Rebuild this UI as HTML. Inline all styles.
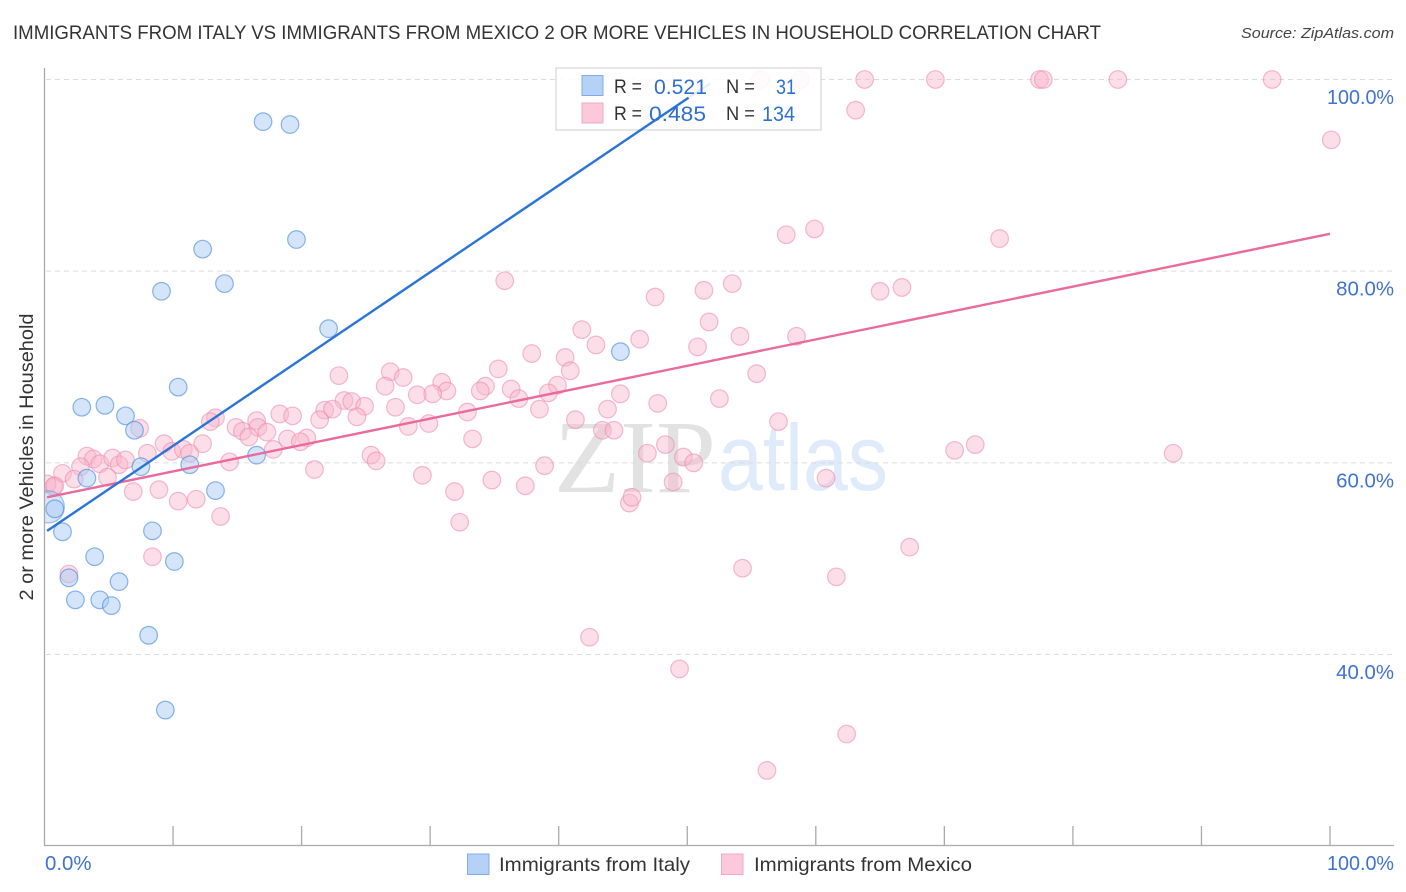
<!DOCTYPE html>
<html lang="en">
<head>
<meta charset="utf-8">
<title>Immigrants from Italy vs Immigrants from Mexico correlation chart</title>
<style>
html,body{margin:0;padding:0;background:#fff;}
svg{display:block;font-family:"Liberation Sans",sans-serif;}
</style>
</head>
<body>
<svg id="chart" xmlns="http://www.w3.org/2000/svg" width="1406" height="892" viewBox="0 0 1406 892">
  <defs>
    <clipPath id="plot-clip"><rect x="45" y="60" width="1349" height="786"/></clipPath>
    <filter id="soft" x="-5%" y="-5%" width="110%" height="110%"><feGaussianBlur stdDeviation="0.35"/></filter>
  </defs>
  <text x="13" y="39" font-size="19" fill="#333" textLength="1088" lengthAdjust="spacingAndGlyphs">IMMIGRANTS FROM ITALY VS IMMIGRANTS FROM MEXICO 2 OR MORE VEHICLES IN HOUSEHOLD CORRELATION CHART</text>
  <text x="1394" y="38" font-size="15" font-style="italic" fill="#444" text-anchor="end" textLength="153" lengthAdjust="spacingAndGlyphs">Source: ZipAtlas.com</text>
  <g>
    <text x="554" y="492" font-family="'Liberation Serif',serif" font-size="104" fill="#e2e2e2" textLength="162" lengthAdjust="spacingAndGlyphs">ZIP</text>
    <text x="718" y="490" font-size="94" fill="#dfeafa" textLength="170" lengthAdjust="spacingAndGlyphs">atlas</text>
  </g>
  <g id="grid"></g>
  <g id="points-pink" clip-path="url(#plot-clip)"></g>
  <g id="points-blue" clip-path="url(#plot-clip)"></g>
  <g id="line-under"></g>
  <rect x="556" y="68" width="265" height="62" fill="#fff" fill-opacity="0.88" stroke="#ddd" stroke-width="1.5"/>
  <g id="lines"></g>
  <g id="axes"></g>
  <g font-size="20">
    <rect x="582" y="75.5" width="21" height="20" fill="#b5d2f6" stroke="#7fade8" stroke-width="1"/>
    <rect x="582" y="103" width="21" height="20" fill="#fdc8d9" stroke="#f2a9c0" stroke-width="1"/>
    <text x="614" y="93" fill="#333" font-size="19" textLength="28" lengthAdjust="spacingAndGlyphs">R =</text>
    <text x="654" y="94" fill="#2f6fd0" font-size="21" textLength="53" lengthAdjust="spacingAndGlyphs">0.521</text>
    <text x="726" y="93" fill="#333" font-size="19" textLength="29" lengthAdjust="spacingAndGlyphs">N =</text>
    <text x="776" y="94" fill="#2f6fd0" font-size="21" textLength="20" lengthAdjust="spacingAndGlyphs">31</text>
    <text x="614" y="120" fill="#333" font-size="19" textLength="28" lengthAdjust="spacingAndGlyphs">R =</text>
    <text x="649" y="121" fill="#2f6fd0" font-size="21" textLength="57" lengthAdjust="spacingAndGlyphs">0.485</text>
    <text x="726" y="120" fill="#333" font-size="19" textLength="29" lengthAdjust="spacingAndGlyphs">N =</text>
    <text x="762" y="121" fill="#2f6fd0" font-size="21" textLength="33" lengthAdjust="spacingAndGlyphs">134</text>
  </g>
  <g>
    <rect x="467.5" y="854" width="21.5" height="20.5" fill="#b5d2f6" stroke="#7fade8" stroke-width="1"/>
    <text x="499" y="871" font-size="19.5" fill="#333" textLength="191" lengthAdjust="spacingAndGlyphs">Immigrants from Italy</text>
    <rect x="721.5" y="854" width="21.5" height="20.5" fill="#fdc8d9" stroke="#f2a9c0" stroke-width="1"/>
    <text x="754" y="871" font-size="19.5" fill="#333" textLength="218" lengthAdjust="spacingAndGlyphs">Immigrants from Mexico</text>
  </g>
  <text transform="translate(33,457) rotate(-90)" font-size="19.5" fill="#333" text-anchor="middle" textLength="287" lengthAdjust="spacingAndGlyphs">2 or more Vehicles in Household</text>
</svg>
<script>
const yTickValues = [100, 80, 60, 40];
const yTickLabels = ["100.0%", "80.0%", "60.0%", "40.0%"];
const xTickValues = [10, 20, 30, 40, 50, 60, 70, 80, 90, 100];
const xEndLabels = ["0.0%", "100.0%"];

const italyX = [17.0,19.1,19.6,12.3,14.0,9.1,22.1,44.8,10.4,2.9,4.7,6.3,7.0,16.5,7.5,11.3,3.3,13.3,0.8,1.4,8.4,3.9,10.1,5.8,1.9,2.4,4.3,5.2,8.1,9.4];
const italyY = [95.6,95.3,83.3,82.3,78.7,77.9,74.0,71.6,67.9,65.8,66.0,64.9,63.4,60.8,59.6,59.8,58.4,57.1,55.2,52.8,52.9,50.2,49.7,47.6,48.0,45.7,45.7,45.1,42.0,34.2];
const italyLargeX = [0.3];
const italyLargeY = [55.4];

const mexicoX = [55.7,58.8,63.8,69.3,77.4,77.7,83.5,95.5,63.1,100.1,59.9,57.7,74.3,35.8,53.5,51.3,47.5,65.0,66.7,51.7,41.8,42.9,46.3,54.1,58.5,50.8,37.9,40.5,35.3,40.9,55.4,26.9,22.9,27.9,26.5,30.9,31.3,34.3,33.9,36.3,36.9,39.9,39.2,44.8,29.0,30.2,23.3,23.9,24.9,27.3,38.5,43.8,47.7,52.5,21.8,22.4,24.3,18.3,19.3,32.9,21.4,16.5,13.3,12.9,7.4,41.3,28.3,29.9,57.1,14.9,15.4,16.6,17.3,15.9,43.4,44.3,33.3,18.9,20.4,19.9,17.8,12.3,9.3,9.9,10.8,11.3,8.0,3.3,3.8,4.3,5.3,5.8,6.3,4.9,2.8,1.4,2.3,0.7,0.2,0.8,14.4,21.0,25.4,25.8,29.4,38.9,46.9,48.3,49.7,50.5,48.9,70.8,72.4,87.8,60.8,34.8,37.4,31.9,6.9,8.9,10.4,11.8,13.7,32.3,45.5,45.7,8.4,1.9,54.3,61.6,67.3,42.4,49.4,62.4,56.2];
const mexicoY = [100,100,100,100,100,100,100,100,96.8,93.7,84.4,83.8,83.4,79.0,78.7,78.0,77.3,77.9,78.3,74.7,73.9,72.3,72.9,73.2,73.2,72.1,71.4,71.0,69.8,69.6,69.3,69.5,69.1,68.9,68.0,68.4,67.5,68.0,67.5,67.7,66.7,68.1,67.3,67.2,67.1,67.2,66.5,66.4,65.9,65.8,65.6,65.6,66.2,66.7,65.5,65.6,64.8,65.1,64.9,65.3,64.5,64.4,64.7,64.3,63.6,64.5,63.8,64.1,64.3,63.7,63.3,63.7,63.2,62.7,63.4,63.4,62.5,62.5,62.6,62.2,61.4,62.0,62.0,61.2,61.4,61.0,61.0,60.7,60.4,59.9,60.5,59.8,60.3,58.5,59.6,58.9,58.3,57.5,57.8,57.6,60.1,59.3,60.8,60.2,58.7,59.7,61.0,61.9,60.6,60.0,58.0,61.3,61.9,61.0,58.4,58.2,57.6,57.0,57.0,57.2,56.0,56.2,54.4,53.8,55.8,56.4,50.2,48.4,49.0,48.1,51.2,41.8,38.5,31.7,27.9];

const italyLineX = [0.2, 50.1];
const italyLineY = [52.9, 98.1];
const italyFadedX = [50.1, 51.8];
const italyFadedY = [98.1, 99.6];
const mexicoLineX = [0.2, 100];
const mexicoLineY = [56.4, 83.9];

const NS = "http://www.w3.org/2000/svg";
function sx(v) { return 44.5 + v * 12.855; }
function sy(v) { return 79.5 + (100 - v) * 9.583; }
function make(tag, attrs, parent) {
  const el = document.createElementNS(NS, tag);
  for (const k in attrs) el.setAttribute(k, attrs[k]);
  parent.appendChild(el);
  return el;
}
function fitWide(el, label) {
  if (label.length === 6) {
    el.setAttribute("textLength", 67);
    el.setAttribute("lengthAdjust", "spacingAndGlyphs");
  }
}

const gridG = document.getElementById("grid");
const axesG = document.getElementById("axes");
yTickValues.forEach(function (v, i) {
  const g = make("line", {x1: 46, x2: 1394, y1: sy(v), y2: sy(v), stroke: "#dcdcdc", "stroke-width": 1, "stroke-dasharray": "5 4"}, gridG);
  
  
  const t = make("text", {x: 1394, y: sy(v) + 24.5, "font-size": 20.4, fill: "#3f72d2", "text-anchor": "end"}, axesG);
  t.textContent = yTickLabels[i];
  fitWide(t, yTickLabels[i]);
  
  
});

const yAxis = make("line", {x1: 44.5, x2: 44.5, y1: 68, y2: 846, stroke: "#aaa", "stroke-width": 1.3}, axesG);


const xAxis = make("line", {x1: 44, x2: 1394, y1: 845.5, y2: 845.5, stroke: "#aaa", "stroke-width": 1.3}, axesG);


xTickValues.forEach(function (v) {
  const tk = make("line", {x1: sx(v), x2: sx(v), y1: 826, y2: 845, stroke: "#aaa", "stroke-width": 1.3}, axesG);
  
  
});
const x0 = make("text", {x: 45, y: 870, "font-size": 20.4, fill: "#3f72d2"}, axesG);
x0.textContent = xEndLabels[0];


const x1 = make("text", {x: 1394, y: 870, "font-size": 20.4, fill: "#3f72d2", "text-anchor": "end"}, axesG);
x1.textContent = xEndLabels[1];
fitWide(x1, xEndLabels[1]);



const pinkG = document.getElementById("points-pink");
mexicoX.forEach(function (v, i) {
  const c = make("circle", {cx: sx(v), cy: sy(mexicoY[i]), r: 8.8, fill: "#f9b6cb", "fill-opacity": 0.45, stroke: "#ec85a8", "stroke-opacity": 0.55, "stroke-width": 1.2}, pinkG);
  
  
});

const blueG = document.getElementById("points-blue");
italyLargeX.forEach(function (v, i) {
  const c = make("circle", {cx: sx(v), cy: sy(italyLargeY[i]), r: 16, fill: "#a9caf3", "fill-opacity": 0.45, stroke: "#5b97e2", "stroke-opacity": 0.6, "stroke-width": 1.2}, blueG);
  
  
});
italyX.forEach(function (v, i) {
  const c = make("circle", {cx: sx(v), cy: sy(italyY[i]), r: 8.8, fill: "#a9caf3", "fill-opacity": 0.5, stroke: "#4f8fe0", "stroke-opacity": 0.65, "stroke-width": 1.2}, blueG);
  
  
});

const fadeLine = make("line", {x1: sx(italyFadedX[0]), y1: sy(italyFadedY[0]), x2: sx(italyFadedX[1]), y2: sy(italyFadedY[1]), stroke: "#2a74d8", "stroke-width": 2.4}, document.getElementById("line-under"));



const linesG = document.getElementById("lines");
const pinkLine = make("line", {x1: sx(mexicoLineX[0]), y1: sy(mexicoLineY[0]), x2: sx(mexicoLineX[1]), y2: sy(mexicoLineY[1]), stroke: "#ea6b9b", "stroke-width": 2.4}, linesG);


const blueLine = make("line", {x1: sx(italyLineX[0]), y1: sy(italyLineY[0]), x2: sx(italyLineX[1]), y2: sy(italyLineY[1]), stroke: "#2a74d8", "stroke-width": 2.4}, linesG);


</script>
</body>
</html>
